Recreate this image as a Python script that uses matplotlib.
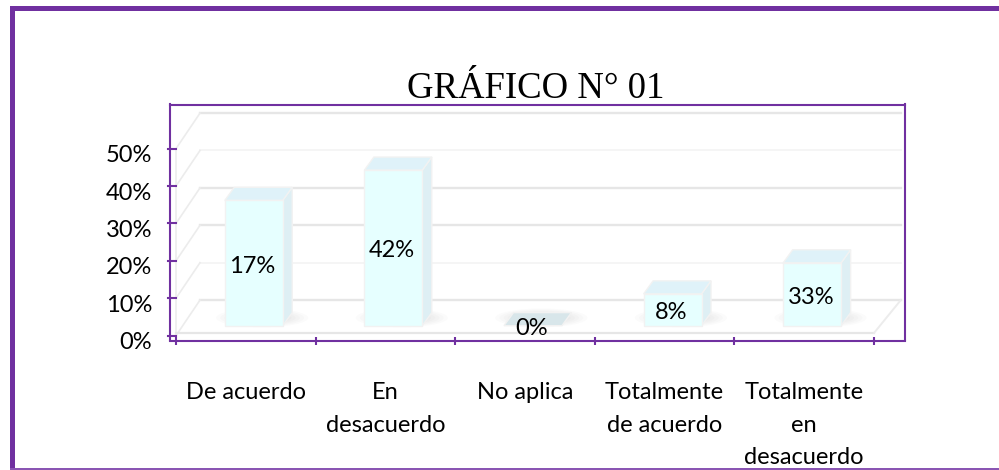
import matplotlib
matplotlib.use("Agg")
import matplotlib.pyplot as plt
from matplotlib.patches import Polygon, Ellipse, Rectangle
from matplotlib.transforms import ScaledTranslation

categories = ["De acuerdo", "En\ndesacuerdo", "No aplica", "Totalmente\nde acuerdo", "Totalmente\nen\ndesacuerdo"]
bar_heights = [33.5, 41.6, 0, 8.5, 16.8]
bar_labels = ["17%", "42%", "0%", "8%", "33%"]
y_ticks = [0, 10, 20, 30, 40, 50]
y_tick_labels = ["0%", "10%", "20%", "30%", "40%", "50%"]
grid_colors = ["#e6e6e6", "#f3f3f3", "#e6e6e6", "#e6e6e6", "#f3f3f3", "#e6e6e6"]
grid_widths = [1.7, 1.2, 1.7, 1.7, 1.2, 1.7]

purple = "#7030a0"
W, H = 999, 470

fig = plt.figure(figsize=(W / 100, H / 100), dpi=100)
ax = fig.add_axes([170 / W, 1 - 340.5 / H, 735 / W, 236 / H])
ax.set_xlim(-0.543, 4.722)
ax.set_ylim(-1.31, 61.8)

# outer frame, open on the right
fig.add_artist(Rectangle((10 / W, 0), 5 / W, 1 - 6 / H, transform=fig.transFigure, color=purple, lw=0))
fig.add_artist(Rectangle((10 / W, 1 - 11 / H), 989 / W, 5 / H, transform=fig.transFigure, color=purple, lw=0))
fig.add_artist(Rectangle((10 / W, 0), 989 / W, 2 / H, transform=fig.transFigure, color="#8a55b3", lw=0))

# fake 3d walls
back_dx = 0.172
back_dy = 9.5
for v, c, lw in zip(y_ticks, grid_colors, grid_widths):
    ax.plot([-0.5 + back_dx, 4.5 + back_dx + 0.02], [v + back_dy, v + back_dy], color=c, lw=lw, zorder=1)
    ax.plot([-0.5, -0.5 + back_dx], [v, v + back_dy], color="#ececec", lw=1.2, zorder=1)
ax.plot([-0.5, -0.5], [0, 50], color="#ececec", lw=1.2, zorder=1)
ax.plot([-0.5, 4.5], [0.7, 0.7], color="#e6e6e6", lw=1.6, zorder=1)
ax.plot([4.5, 4.5 + back_dx + 0.02], [0.7, back_dy], color="#ececec", lw=1.4, zorder=1)

# bars
width = 0.415
shift = 0.057
base = 2.65
bar_dx = 0.068
bar_dy = 3.5
centers = [i + shift for i in range(len(categories))]
label_down = ScaledTranslation(0, -3 / 100, fig.dpi_scale_trans)

for cx, h, lab in zip(centers, bar_heights, bar_labels):
    # soft floor shadow
    for k in range(7):
        ax.add_patch(Ellipse((cx + 0.06, base + 2.1), 0.66 - k * 0.06, 5.0 - k * 0.55,
                             color="#8c8c8c", alpha=0.03, lw=0, zorder=2))
    x0 = cx - width / 2
    x1 = cx + width / 2
    top = base + h
    if h > 0:
        ax.bar(cx, h, width, bottom=base, color="#e6ffff", edgecolor="#f2f2f2", lw=1, zorder=4)
        ax.add_patch(Polygon([(x1, base), (x1 + bar_dx, base + bar_dy), (x1 + bar_dx, top + bar_dy), (x1, top)],
                             facecolor="#deeff4", edgecolor="#f2f2f2", lw=1, zorder=3))
        top_color = "#dff2f9"
    else:
        top_color = "#d8e6ea"
    ax.add_patch(Polygon([(x0, top), (x1, top), (x1 + bar_dx, top + bar_dy), (x0 + bar_dx, top + bar_dy)],
                         facecolor=top_color, edgecolor="#f2f2f2", lw=1, zorder=3))
    ax.text(cx - 0.01, top - h / 2, lab, ha="center", va="center", fontsize=17,
            family="Lato", color="black", zorder=6, transform=ax.transData + label_down)

# purple frame and ticks
for s in ax.spines.values():
    s.set_color(purple)
    s.set_linewidth(1.5)

ax.set_yticks(y_ticks, y_tick_labels, family="Lato", fontsize=17)
ax.tick_params(axis="y", length=0, pad=13)
down = ScaledTranslation(0, -5 / 100, fig.dpi_scale_trans)
for label in ax.get_yticklabels():
    label.set_transform(label.get_transform() + down)
for v in y_ticks:
    ax.plot([-0.5 - 0.058, -0.5], [v, v], color=purple, lw=1.5, clip_on=False, zorder=7)

ax.set_xticks(range(len(categories)), categories, family="Lato", fontsize=17, linespacing=1.68, va="top")
ax.set_xticks([i - 0.5 for i in range(len(categories) + 1)], minor=True)
ax.tick_params(axis="x", which="major", length=0, pad=30)
ax.tick_params(axis="x", which="minor", length=6, width=1.5, color=purple, direction="inout")

fig.text(536 / W, 1 - 97.7 / H, "GRÁFICO N° 01", ha="center", va="baseline",
         family="Liberation Serif", fontsize=26.5, color="black")

fig.savefig("out.png", dpi=100)
